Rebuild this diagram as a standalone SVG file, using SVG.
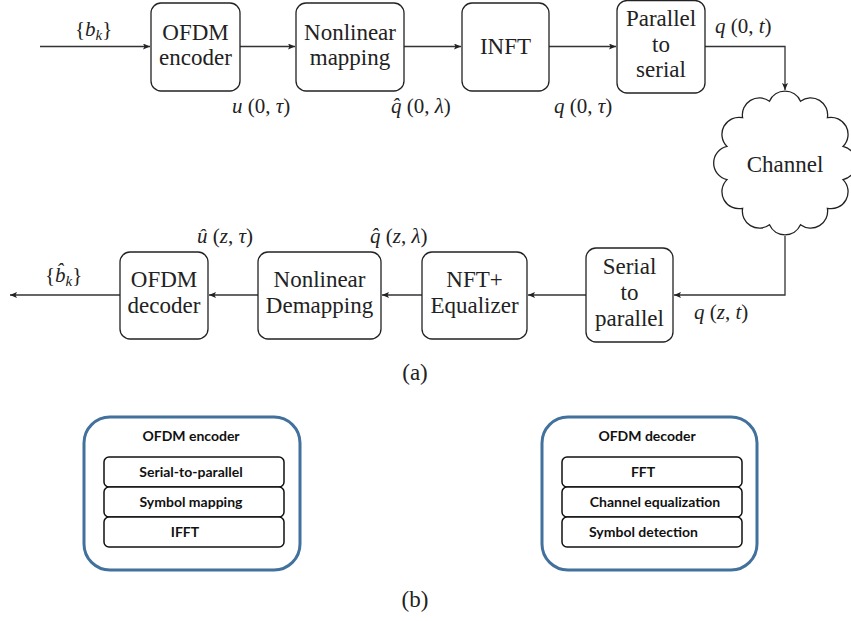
<svg xmlns="http://www.w3.org/2000/svg" width="851" height="621" viewBox="0 0 851 621">
<style>
.box{fill:#fff;stroke:#222;stroke-width:1.3}
.lbl{font-size:23px;fill:#222;text-anchor:middle}
.math{font-size:21px;fill:#222}
.it{font-style:italic}
.wire{fill:none;stroke:#333;stroke-width:1.3}
.outer{fill:#fff;stroke:#41719C;stroke-width:3}
.inner{fill:#fff;stroke:#111;stroke-width:1.5}
.sub{font-weight:bold;font-size:14px;fill:#111;text-anchor:middle}
</style>
<defs>
<marker id="ah" markerWidth="8" markerHeight="6" refX="7" refY="3" orient="auto" markerUnits="userSpaceOnUse">
<path d="M0,0 L7,3 L0,6 L1.5,3 Z" fill="#222"/>
</marker>
</defs>
<g id="connectors">
<path class="wire" d="M40,46.5 H150" marker-end="url(#ah)"/>
<path class="wire" d="M240,46.5 H295" marker-end="url(#ah)"/>
<path class="wire" d="M404,46.5 H461" marker-end="url(#ah)"/>
<path class="wire" d="M549,46.5 H616" marker-end="url(#ah)"/>
<path class="wire" d="M705,46.5 H785 V90" marker-end="url(#ah)"/>
<path class="wire" d="M785,236 V295 H674" marker-end="url(#ah)"/>
<path class="wire" d="M586,295 H528" marker-end="url(#ah)"/>
<path class="wire" d="M422,295 H382" marker-end="url(#ah)"/>
<path class="wire" d="M258,295 H209" marker-end="url(#ah)"/>
<path class="wire" d="M120,295 H10" marker-end="url(#ah)"/>
</g>
<g id="labels">
<text class="math" font-family="Liberation Serif, serif" x="75" y="36">{<tspan class="it">b</tspan><tspan class="it" font-size="15" dy="4">k</tspan><tspan dy="-4">}</tspan></text>
<text class="math" font-family="Liberation Serif, serif" x="232" y="113"><tspan class="it">u</tspan> (0, <tspan class="it">τ</tspan>)</text>
<text class="math" font-family="Liberation Serif, serif" x="391" y="113"><tspan class="it">q̂</tspan> (0, <tspan class="it">λ</tspan>)</text>
<text class="math" font-family="Liberation Serif, serif" x="554" y="113"><tspan class="it">q</tspan> (0, <tspan class="it">τ</tspan>)</text>
<text class="math" font-family="Liberation Serif, serif" x="715" y="33"><tspan class="it">q</tspan> (0, <tspan class="it">t</tspan>)</text>
<text class="math" font-family="Liberation Serif, serif" x="45" y="282">{<tspan class="it">b̂</tspan><tspan class="it" font-size="15" dy="4">k</tspan><tspan dy="-4">}</tspan></text>
<text class="math" font-family="Liberation Serif, serif" x="197" y="243"><tspan class="it">û</tspan> (<tspan class="it">z</tspan>, <tspan class="it">τ</tspan>)</text>
<text class="math" font-family="Liberation Serif, serif" x="370" y="243"><tspan class="it">q̂</tspan> (<tspan class="it">z</tspan>, <tspan class="it">λ</tspan>)</text>
<text class="math" font-family="Liberation Serif, serif" x="694" y="319"><tspan class="it">q</tspan> (<tspan class="it">z</tspan>, <tspan class="it">t</tspan>)</text>
<text class="lbl" font-family="Liberation Serif, serif" x="415" y="380">(a)</text>
<text class="lbl" font-family="Liberation Serif, serif" x="415" y="607">(b)</text>
</g>
<g id="ofdm-encoder">
<rect class="box" x="151" y="3" width="89" height="88" rx="10"/>
<text class="lbl" font-family="Liberation Serif, serif" x="195.5" y="40">OFDM</text>
<text class="lbl" font-family="Liberation Serif, serif" x="195.5" y="65">encoder</text>
</g>
<g id="nonlinear-mapping">
<rect class="box" x="296" y="3" width="108" height="88" rx="10"/>
<text class="lbl" font-family="Liberation Serif, serif" x="350" y="40">Nonlinear</text>
<text class="lbl" font-family="Liberation Serif, serif" x="350" y="65">mapping</text>
</g>
<g id="inft">
<rect class="box" x="462" y="3" width="87" height="88" rx="10"/>
<text class="lbl" font-family="Liberation Serif, serif" x="505.5" y="54">INFT</text>
</g>
<g id="parallel-to-serial">
<rect class="box" x="617" y="0.5" width="88" height="92.5" rx="10"/>
<text class="lbl" font-family="Liberation Serif, serif" x="661" y="26">Parallel</text>
<text class="lbl" font-family="Liberation Serif, serif" x="661" y="52">to</text>
<text class="lbl" font-family="Liberation Serif, serif" x="661" y="77">serial</text>
</g>
<g id="channel">
<path class="box" d="M800.5,101.2 A17,17 0 0 1 827.4,117.7 A17,17 0 0 1 843,146.4 A17,17 0 0 1 843,179.6 A17,17 0 0 1 827.4,208.3 A17,17 0 0 1 800.5,224.8 A17,17 0 0 1 769.5,224.8 A17,17 0 0 1 742.6,208.3 A17,17 0 0 1 727,179.6 A17,17 0 0 1 727,146.4 A17,17 0 0 1 742.6,117.7 A17,17 0 0 1 769.5,101.2 A17,17 0 0 1 800.5,101.2 Z"/>
<text class="lbl" font-family="Liberation Serif, serif" x="785" y="172">Channel</text>
</g>
<g id="serial-to-parallel">
<rect class="box" x="586" y="248" width="87" height="94" rx="10"/>
<text class="lbl" font-family="Liberation Serif, serif" x="629.5" y="274">Serial</text>
<text class="lbl" font-family="Liberation Serif, serif" x="629.5" y="300">to</text>
<text class="lbl" font-family="Liberation Serif, serif" x="629.5" y="326">parallel</text>
</g>
<g id="nft-equalizer">
<rect class="box" x="422" y="252" width="105" height="87" rx="10"/>
<text class="lbl" font-family="Liberation Serif, serif" x="474.5" y="287">NFT+</text>
<text class="lbl" font-family="Liberation Serif, serif" x="474.5" y="313">Equalizer</text>
</g>
<g id="nonlinear-demapping">
<rect class="box" x="258" y="252" width="123" height="87" rx="10"/>
<text class="lbl" font-family="Liberation Serif, serif" x="319.5" y="287">Nonlinear</text>
<text class="lbl" font-family="Liberation Serif, serif" x="319.5" y="313">Demapping</text>
</g>
<g id="ofdm-decoder">
<rect class="box" x="120" y="252" width="88" height="87" rx="10"/>
<text class="lbl" font-family="Liberation Serif, serif" x="164" y="287">OFDM</text>
<text class="lbl" font-family="Liberation Serif, serif" x="164" y="313">decoder</text>
</g>
<g id="encoder-detail">
<rect class="outer" x="84" y="417" width="216" height="153" rx="26"/>
<text class="sub" font-family="Lato, sans-serif" x="191" y="441">OFDM encoder</text>
<rect class="inner" x="104" y="457" width="180" height="30" rx="5"/>
<text class="sub" font-family="Lato, sans-serif" x="191" y="477">Serial-to-parallel</text>
<rect class="inner" x="104" y="487" width="180" height="30" rx="5"/>
<text class="sub" font-family="Lato, sans-serif" x="191" y="507">Symbol mapping</text>
<rect class="inner" x="104" y="517" width="180" height="30" rx="5"/>
<text class="sub" font-family="Lato, sans-serif" x="185" y="537">IFFT</text>
</g>
<g id="decoder-detail">
<rect class="outer" x="542" y="417" width="215" height="153" rx="26"/>
<text class="sub" font-family="Lato, sans-serif" x="647" y="441">OFDM decoder</text>
<rect class="inner" x="562" y="457" width="180" height="30" rx="5"/>
<text class="sub" font-family="Lato, sans-serif" x="643" y="477">FFT</text>
<rect class="inner" x="562" y="487" width="180" height="30" rx="5"/>
<text class="sub" font-family="Lato, sans-serif" x="655" y="507">Channel equalization</text>
<rect class="inner" x="562" y="517" width="180" height="30" rx="5"/>
<text class="sub" font-family="Lato, sans-serif" x="643.5" y="537">Symbol detection</text>
</g>
</svg>
